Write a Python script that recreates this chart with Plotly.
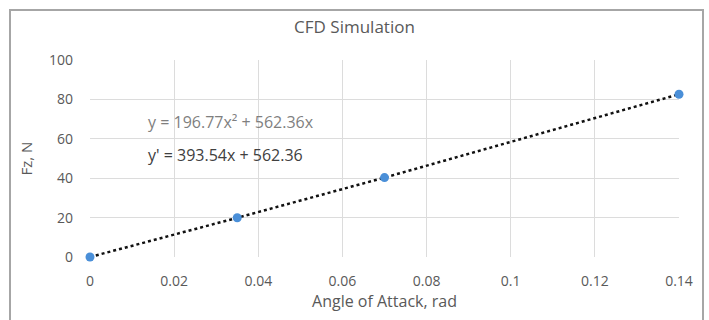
import plotly.graph_objects as go

angle = [0, 0.035, 0.07, 0.14]
fz = [0, 19.9, 40.3, 82.6]
x_ticks = [0, 0.02, 0.04, 0.06, 0.08, 0.1, 0.12, 0.14]
x_tick_labels = ["0", "0.02", "0.04", "0.06", "0.08", "0.1", "0.12", "0.14"]
y_ticks = [0, 20, 40, 60, 80, 100]

FONT = "Open Sans"
GRAY = "#595959"

fig = go.Figure()
fig.add_trace(go.Scatter(
    x=angle, y=fz, mode="lines+markers",
    line=dict(color="#111111", width=2.5, dash="dot"),
    marker=dict(color="#4a8fd8", size=9),
    cliponaxis=False,
    showlegend=False,
))

fig.update_layout(
    width=709, height=320,
    margin=dict(l=90, r=30, t=60, b=63),
    paper_bgcolor="white", plot_bgcolor="white",
    font=dict(family=FONT, color=GRAY, size=14),
    title=dict(text="CFD Simulation", x=0.5, xanchor="center", y=1 - 27 / 320, yanchor="middle",
               font=dict(family=FONT, size=17, color=GRAY)),
    xaxis=dict(range=[0, 0.14], tickvals=x_ticks, ticktext=x_tick_labels,
               showgrid=True, gridcolor="#dcdcdc", gridwidth=1, zeroline=False,
               showline=False, ticks="", ticklabelstandoff=14, tickfont=dict(size=14, color=GRAY),
               title=dict(text="Angle of Attack, rad", font=dict(size=16, color=GRAY), standoff=2)),
    yaxis=dict(range=[0, 100], tickvals=y_ticks,
               showgrid=True, gridcolor="#dcdcdc", gridwidth=1, zeroline=False,
               showline=False, ticks="", ticklabelstandoff=16, tickfont=dict(size=14, color=GRAY),
               title=dict(text="Fz, N", font=dict(size=15, color=GRAY), standoff=12)),
    shapes=[dict(type="rect", xref="paper", yref="paper",
                 x0=(10 - 90) / 589, x1=(703 - 90) / 589,
                 y0=(257 - 340) / 197, y1=(257 - 10) / 197,
                 line=dict(color="#a6a6a6", width=2), fillcolor="rgba(0,0,0,0)", layer="below")],
    annotations=[
        dict(text="y = 196.77x² + 562.36x", xref="paper", yref="paper",
             x=(146 - 90) / 589, y=(257 - 122) / 197, xanchor="left", yanchor="middle",
             showarrow=False, font=dict(family=FONT, size=16, color="#7f7f7f")),
        dict(text="y' = 393.54x + 562.36", xref="paper", yref="paper",
             x=(146 - 90) / 589, y=(257 - 155) / 197, xanchor="left", yanchor="middle",
             showarrow=False, font=dict(family=FONT, size=16, color="#404040")),
    ],
)

fig.write_html("out.html")
